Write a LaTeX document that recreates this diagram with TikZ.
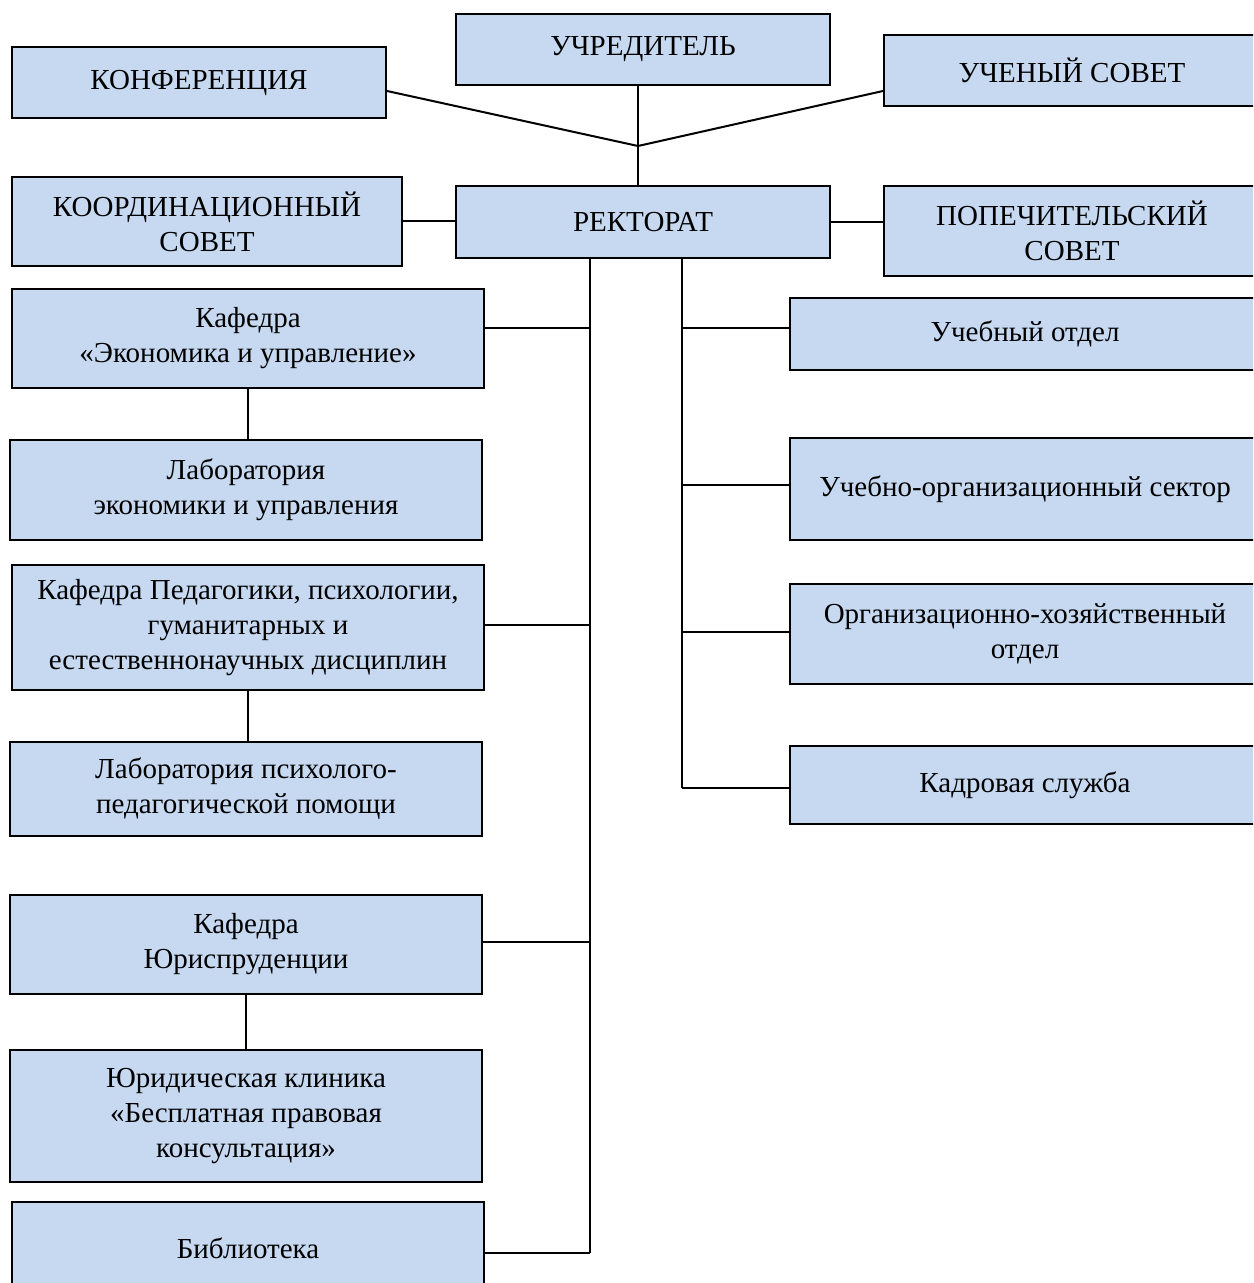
\documentclass[tikz,border=0pt]{standalone}
\usepackage{fontspec}
\setmainfont{Liberation Serif}
\usepackage{tikz}
\usetikzlibrary{positioning}
\definecolor{boxblue}{HTML}{C6D9F1}

\begin{document}
\begin{tikzpicture}[
    x=0.5pt, y=-0.5pt,
    font=\fontsize{14.5}{17.5}\selectfont,
    unit/.style={
		rectangle,
		draw=black,
		line width=1pt,
		fill=boxblue,
		align=center,
		inner sep=0pt
	},
	boxsize/.style 2 args={
		minimum width=#1*0.5pt,
		minimum height=#2*0.5pt
	},
	link/.style={
		line width=1pt
	}
  ]
  \clip (0,0) rectangle (1253,1283);

    % top row
  \node [unit, boxsize={374}{71}] (uchr) at (643,49.5) {УЧРЕДИТЕЛЬ};
  \node [unit, boxsize={374}{71}] (konf) at (199,82.5) {КОНФЕРЕНЦИЯ};
  \node [unit, boxsize={376}{71}] (sovet) at (1072,70.5) {УЧЕНЫЙ СОВЕТ};

    % second row
  \node [unit, boxsize={374}{72}] (rekt) at (643,222) {РЕКТОРАТ};
  \node [unit, boxsize={390}{89}] (koord) at (207,221.5) {КООРДИНАЦИОННЫЙ\\СОВЕТ};
  \node [unit, boxsize={376}{90}] (popech) at (1072,231) {ПОПЕЧИТЕЛЬСКИЙ\\СОВЕТ};

    % left column
  \node [unit, boxsize={472}{99}] (kaf1) at (248,338.5) {Кафедра\\«Экономика и управление»};
  \node [unit, boxsize={472}{100}] (lab1) at (246,490) {Лаборатория\\экономики и управления};
  \node [unit, boxsize={472}{125}] (kaf2) at (248,627.5) {Кафедра Педагогики, психологии,\\гуманитарных и\\естественнонаучных дисциплин};
  \node [unit, boxsize={472}{94}] (lab2) at (246,789) {Лаборатория психолого-\\педагогической помощи};
  \node [unit, boxsize={472}{99}] (kaf3) at (246,944.5) {Кафедра\\Юриспруденции};
  \node [unit, boxsize={472}{132}] (klin) at (246,1116) {Юридическая клиника\\«Бесплатная правовая\\консультация»};
  \node [unit, boxsize={472}{92}] (bibl) at (248,1248) {Библиотека};

    % right column
  \node [unit, boxsize={470}{72}] (otd1) at (1025,334) {Учебный отдел};
  \node [unit, boxsize={470}{102}] (sektor) at (1025,489) {Учебно-организационный сектор};
  \node [unit, boxsize={470}{100}] (hoz) at (1025,634) {Организационно-хозяйственный\\отдел};
  \node [unit, boxsize={470}{78}] (kadr) at (1025,785) {Кадровая служба};

    % links at the top
  \coordinate (hub) at (638,146);
  \draw [link] (uchr.south -| hub) -- (hub) -- (rekt.north -| hub);
  \draw [link] ([yshift=-4.25pt]konf.east) -- (hub);
  \draw [link] ([yshift=-10.25pt]sovet.west) -- (hub);
  \draw [link] (koord.east) -- (koord.east -| rekt.west);
  \draw [link] (rekt.east) -- (rekt.east -| popech.west);

    % spines
  \coordinate (spineL) at ([xshift=-26.5pt]rekt.south);
  \coordinate (spineR) at ([xshift=19.5pt]rekt.south);
  \foreach \n/\y in {kaf1/328, kaf2/625, kaf3/942, bibl/1253}
    \coordinate (b\n) at (spineL |- 0,\y);
  \foreach \n/\y in {otd1/328, sektor/485, hoz/632, kadr/788}
    \coordinate (b\n) at (spineR |- 0,\y);
  \draw [link] (spineL) -- (bbibl);
  \draw [link] (spineR) -- (bkadr);
  \foreach \n in {kaf1, kaf2, kaf3, bibl}
    \draw [link] (b\n) -- (b\n -| \n.east);
  \foreach \n in {otd1, sektor, hoz, kadr}
    \draw [link] (b\n) -- (b\n -| \n.west);

    % departments and their labs
  \draw [link] (kaf1.south) -- (kaf1.south |- lab1.north);
  \draw [link] (kaf2.south) -- (kaf2.south |- lab2.north);
  \draw [link] (kaf3.south) -- (kaf3.south |- klin.north);

\end{tikzpicture}
\end{document}
